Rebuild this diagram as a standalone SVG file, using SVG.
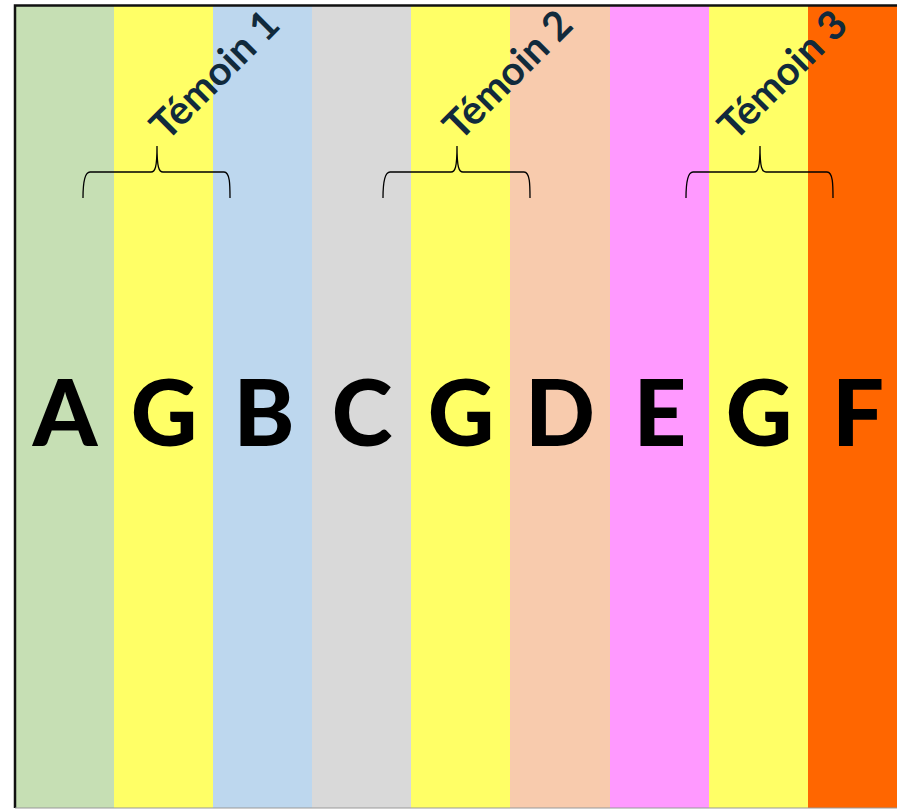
<svg xmlns="http://www.w3.org/2000/svg" width="897" height="809" viewBox="0 0 897 809">
<style>
.lbl{font-family:Lato,"Open Sans","Liberation Sans",sans-serif;font-weight:700;font-size:40px;fill:#112a3c}
.big{font-family:Lato,"DejaVu Sans",sans-serif;font-weight:900;font-size:92px;fill:#000;text-anchor:middle}
.brace{fill:none;stroke:#000;stroke-width:1.3}
</style>
<rect x="0" y="0" width="897" height="809" fill="#fff"/>
<g id="stripes">
<rect x="16" y="6" width="98" height="802" fill="#C6DFB4"/>
<rect x="114" y="6" width="99" height="802" fill="#FFFF66"/>
<rect x="213" y="6" width="99" height="802" fill="#BDD7EE"/>
<rect x="312" y="6" width="99" height="802" fill="#D9D9D9"/>
<rect x="411" y="6" width="99" height="802" fill="#FFFF66"/>
<rect x="510" y="6" width="100" height="802" fill="#F8CBAD"/>
<rect x="610" y="6" width="99" height="802" fill="#FF99FF"/>
<rect x="709" y="6" width="99" height="802" fill="#FFFF66"/>
<rect x="808" y="6" width="89" height="802" fill="#FF6600"/>
</g>
<path d="M15,808 V5.5 H897" fill="none" stroke="#111" stroke-width="2.5"/>
<line x1="15" y1="808" x2="897" y2="808" stroke="#999" stroke-width="1"/>
<g id="letters">
<text class="big" x="65" y="446">A</text>
<text class="big" x="164" y="446">G</text>
<text class="big" x="264" y="446">B</text>
<text class="big" x="362" y="446">C</text>
<text class="big" x="461" y="446">G</text>
<text class="big" x="560" y="446">D</text>
<text class="big" x="660" y="446">E</text>
<text class="big" x="759" y="446">G</text>
<text class="big" x="858" y="446">F</text>
</g>
<g id="connectors">
<path class="brace" d="M83,198 C83,185 84,172 90,172 H151 C155,172 157,168 157,146 C157,168 159,172 163,172 H224 C230,172 230,185 230,198"/>
<path class="brace" d="M383,198 C383,185 384,172 390,172 H451 C455,172 457,168 457,146 C457,168 459,172 463,172 H524 C530,172 530,185 530,198"/>
<path class="brace" d="M686,198 C686,185 687,172 693,172 H754 C758,172 760,168 760,146 C760,168 762,172 766,172 H827 C833,172 833,185 833,198"/>
</g>
<g id="temoin1"><text class="lbl" transform="translate(167,142) rotate(-45)">Témoin 1</text></g>
<g id="temoin2"><text class="lbl" transform="translate(460,142) rotate(-45)">Témoin 2</text></g>
<g id="temoin3"><text class="lbl" transform="translate(735,142) rotate(-45)">Témoin 3</text></g>
</svg>
